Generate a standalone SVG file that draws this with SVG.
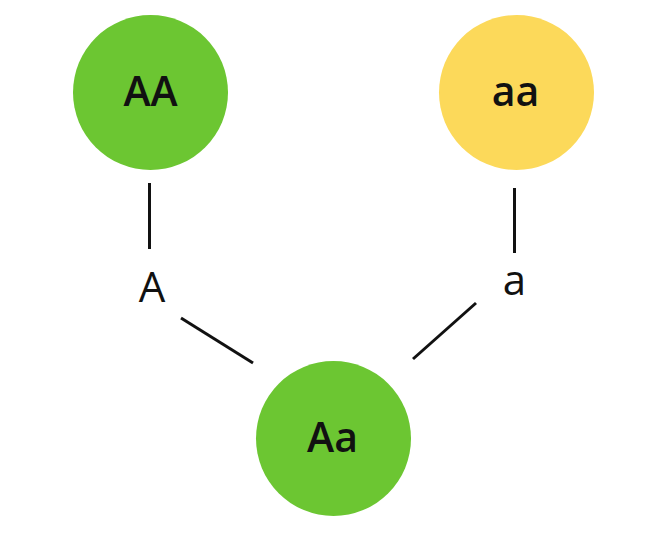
<svg xmlns="http://www.w3.org/2000/svg" width="661" height="545" viewBox="0 0 661 545">
<style>
.green{fill:#6cc632}
.yellow{fill:#fcd95a}
.lbl{font-family:"Open Sans","Liberation Sans",sans-serif;font-weight:600;font-size:41px;fill:#111;text-anchor:middle}
.el{font-family:"Open Sans","Liberation Sans",sans-serif;font-weight:500;font-size:42px;fill:#111;text-anchor:middle}
.conn line{stroke:#111;stroke-width:3;stroke-linecap:butt}
</style>
<rect width="661" height="545" fill="#fff"/>
<g id="connectors" class="conn">
<line x1="149.5" y1="183" x2="149.5" y2="249"/>
<line x1="181" y1="318" x2="253" y2="363"/>
<line x1="514.5" y1="188" x2="514.5" y2="253"/>
<line x1="476" y1="303" x2="413" y2="359"/>
<text class="el" x="152" y="302">A</text>
<text class="el" x="514.5" y="295">a</text>
</g>
<g id="node-AA">
<circle class="green" cx="150.5" cy="92.5" r="77.5"/>
<text class="lbl" x="150.5" y="106">AA</text>
</g>
<g id="node-aa">
<circle class="yellow" cx="516.5" cy="92.5" r="77.5"/>
<text class="lbl" x="515.5" y="106">aa</text>
</g>
<g id="node-Aa">
<circle class="green" cx="333.5" cy="438.5" r="77.5"/>
<text class="lbl" x="332.5" y="452">Aa</text>
</g>
</svg>
